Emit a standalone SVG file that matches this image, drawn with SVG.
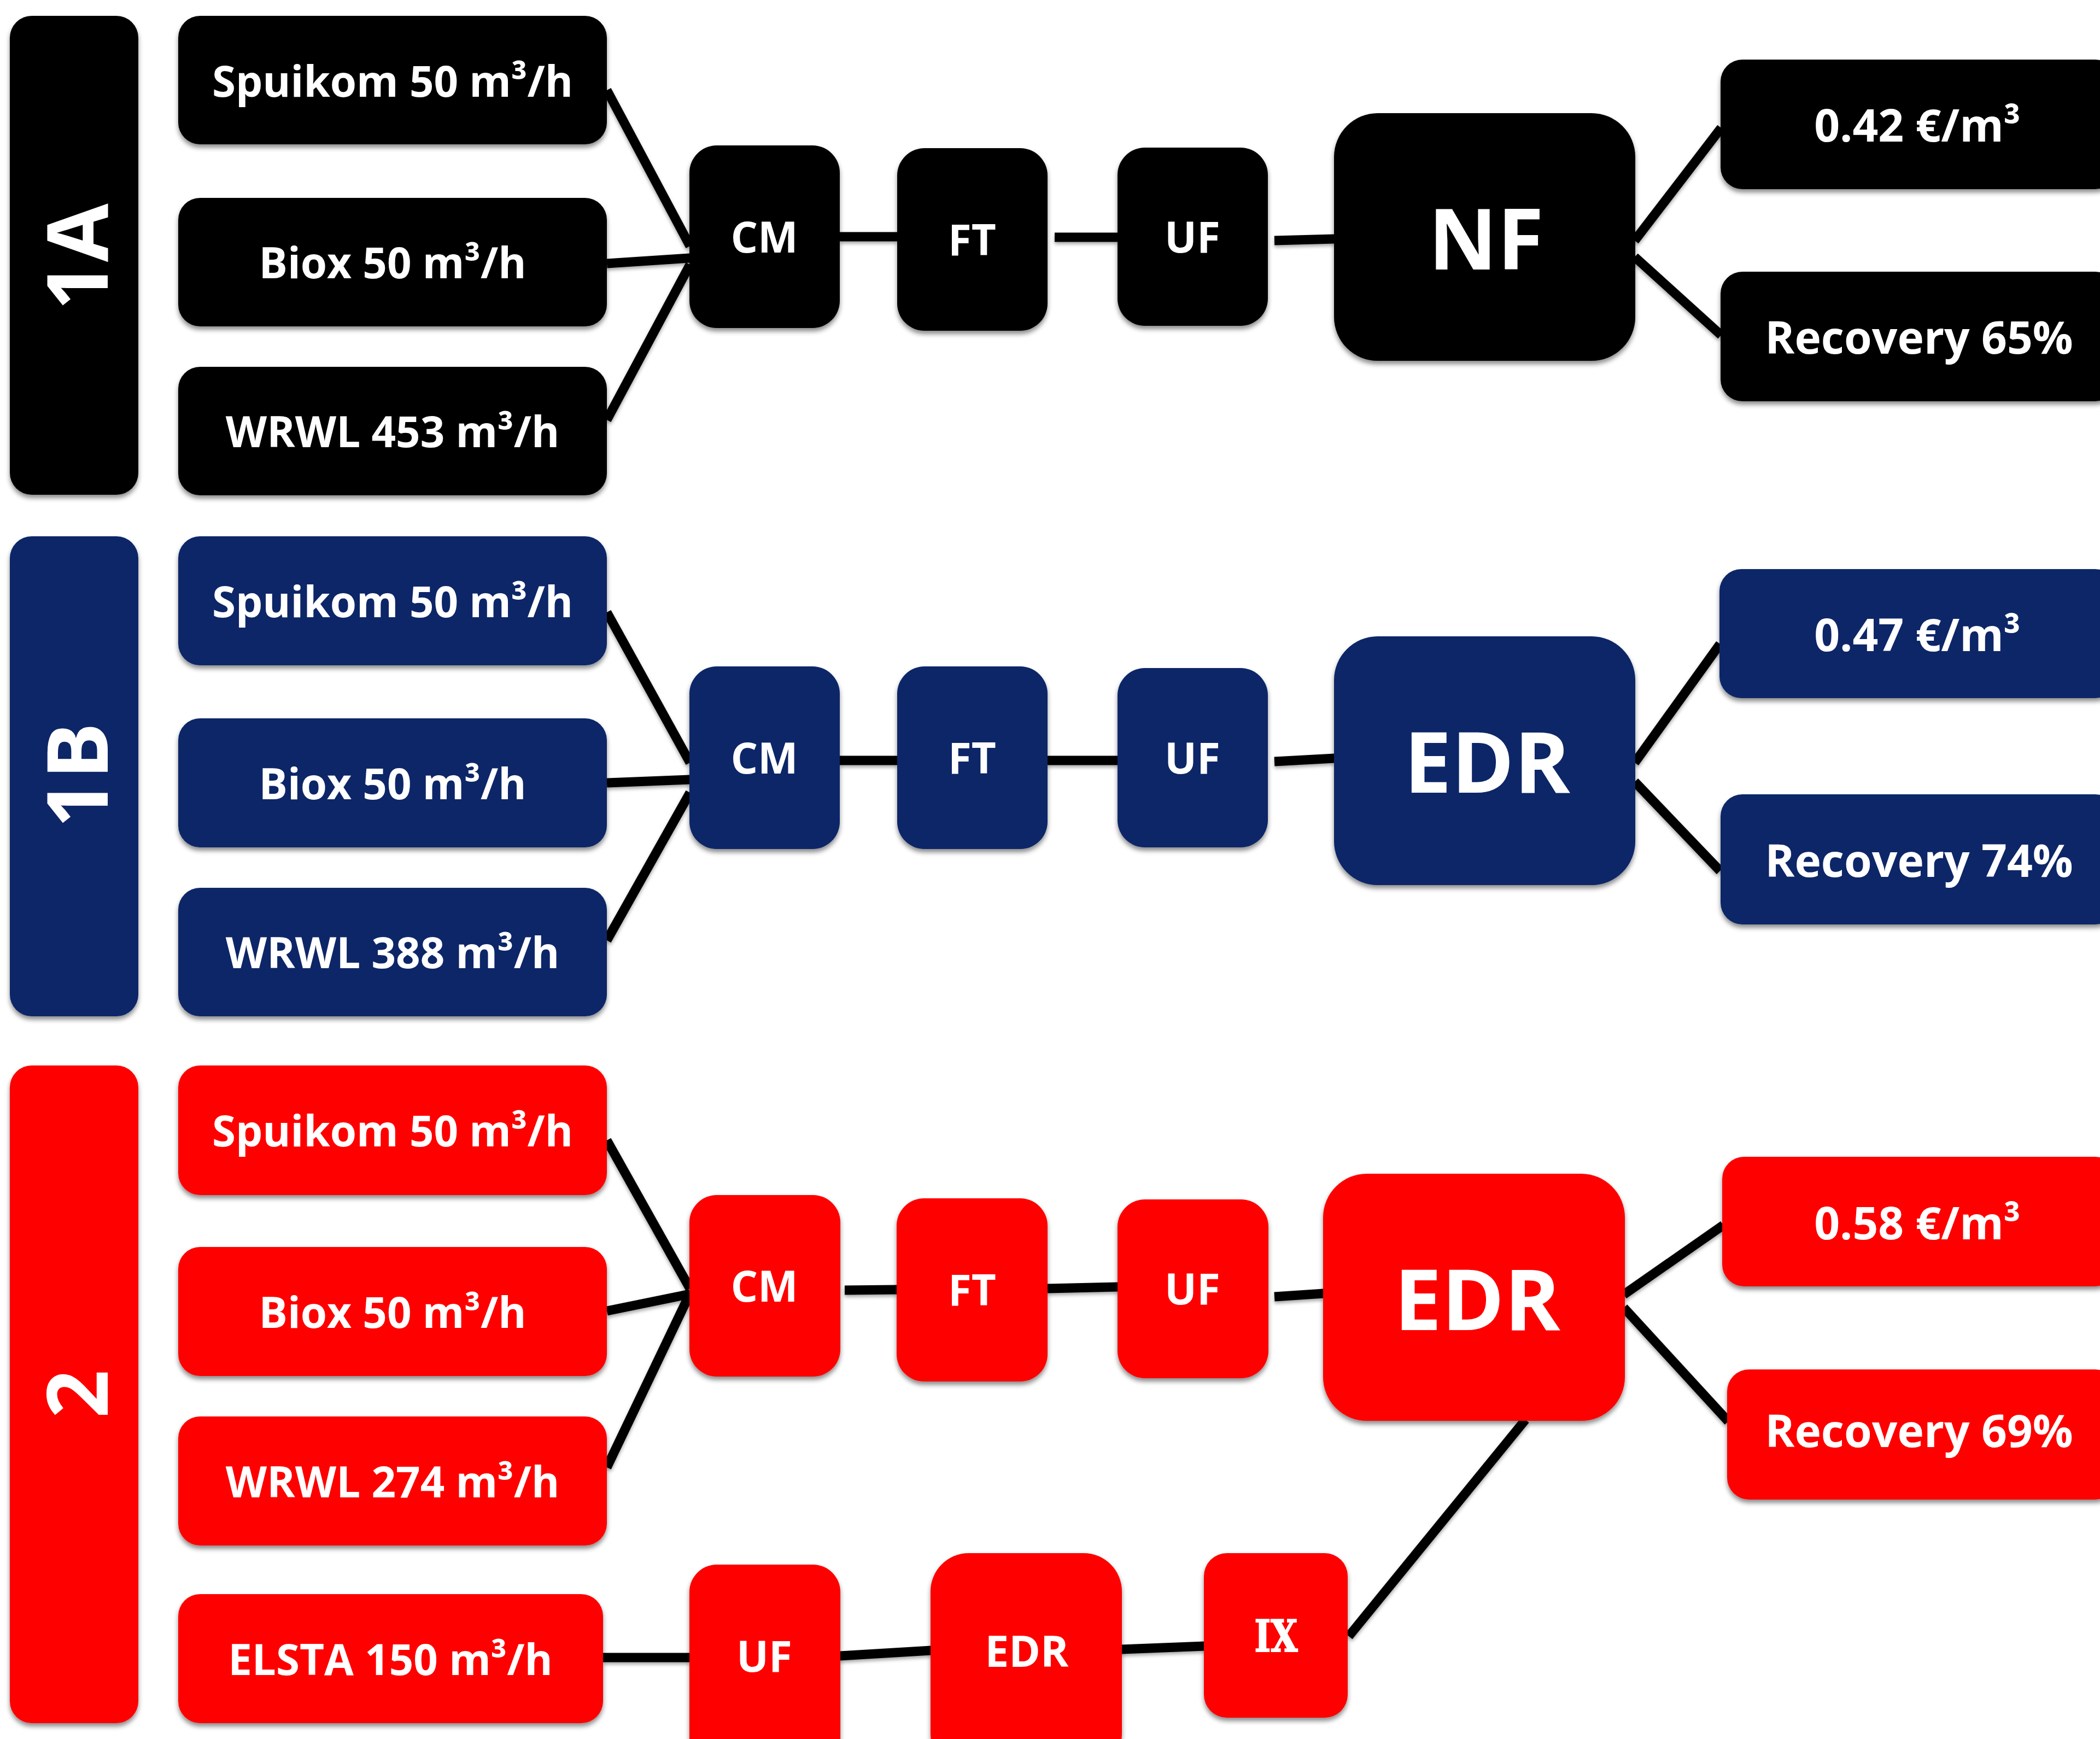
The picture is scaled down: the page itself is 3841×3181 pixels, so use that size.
<svg xmlns="http://www.w3.org/2000/svg" width="3841" height="3181" viewBox="0 0 3841 3181">
<defs>
<filter id="sh" x="-10%" y="-10%" width="120%" height="130%">
<feDropShadow dx="0" dy="6" stdDeviation="4" flood-color="#000" flood-opacity="0.45"/>
</filter>
<filter id="lsh" filterUnits="userSpaceOnUse" x="0" y="0" width="3841" height="3181">
<feDropShadow dx="0" dy="4" stdDeviation="3" flood-color="#000" flood-opacity="0.35"/>
</filter>
<style>
.k{fill:#050505}
.b{fill:#072567}
.r{fill:#FE0606}
rect{filter:url(#sh)}
text{font-family:"Open Sans","Noto Sans","DejaVu Sans",sans-serif;font-weight:700;fill:#fff;text-anchor:middle}
.t80{font-size:78px}
.t86{font-size:82px}
.t155{font-size:155px}
.lab{font-size:155px}
.ix{font-family:"DejaVu Serif","Liberation Serif",serif;font-size:80px;font-weight:800;font-stretch:condensed;stroke:#fff;stroke-width:2}
.c{filter:url(#lsh)}
.c line{stroke:#000;stroke-width:17;stroke-linecap:butt}
</style>
</defs>
<rect width="3841" height="3181" fill="#fff" style="filter:none"/>

<g class="c" id="connectors">
<!-- 1A -->
<line x1="1110" y1="165" x2="1262" y2="450"/>
<line x1="1110" y1="482" x2="1262" y2="472"/>
<line x1="1110" y1="768" x2="1262" y2="484"/>
<line x1="1536" y1="433" x2="1641" y2="433"/>
<line x1="1929" y1="434" x2="2044" y2="434"/>
<line x1="2331" y1="440" x2="2441" y2="437"/>
<line x1="2990" y1="440" x2="3148" y2="234"/>
<line x1="2990" y1="470" x2="3148" y2="613"/>
<!-- 1B -->
<line x1="1110" y1="1120" x2="1262" y2="1395"/>
<line x1="1110" y1="1432" x2="1262" y2="1426"/>
<line x1="1110" y1="1720" x2="1262" y2="1450"/>
<line x1="1536" y1="1391" x2="1641" y2="1391"/>
<line x1="1916" y1="1391" x2="2044" y2="1391"/>
<line x1="2331" y1="1393" x2="2441" y2="1387"/>
<line x1="2990" y1="1395" x2="3146" y2="1178"/>
<line x1="2990" y1="1430" x2="3146" y2="1593"/>
<!-- 2 -->
<line x1="1110" y1="2086" x2="1262" y2="2357"/>
<line x1="1110" y1="2398" x2="1262" y2="2367"/>
<line x1="1110" y1="2684" x2="1262" y2="2366"/>
<line x1="1103" y1="3032" x2="1262" y2="3032"/>
<line x1="1545" y1="2360" x2="1641" y2="2359"/>
<line x1="1916" y1="2357" x2="2045" y2="2354"/>
<line x1="2331" y1="2372" x2="2421" y2="2366"/>
<line x1="2970" y1="2368" x2="3152" y2="2241"/>
<line x1="2970" y1="2392" x2="3161" y2="2600"/>
<line x1="2790" y1="2597" x2="2467" y2="2993"/>
<line x1="1536" y1="3029" x2="1703" y2="3019"/>
<line x1="2051" y1="3017" x2="2204" y2="3011"/>
</g>

<!-- Section 1A -->
<g id="lab1A"><rect class="k" x="18" y="29" width="235" height="876" rx="40"/><text class="lab" transform="translate(197,470) rotate(-90)">1A</text></g>
<g id="a_spuikom"><rect class="k" x="326" y="29" width="784" height="235" rx="40"/><text class="t80" x="718" y="177">Spuikom 50 m³/h</text></g>
<g id="a_biox"><rect class="k" x="326" y="362" width="784" height="235" rx="40"/><text class="t80" x="718" y="509">Biox 50 m³/h</text></g>
<g id="a_wrwl"><rect class="k" x="326" y="671" width="784" height="235" rx="40"/><text class="t80" x="718" y="818">WRWL 453 m³/h</text></g>
<g id="a_cm"><rect class="k" x="1261" y="266" width="275" height="334" rx="50"/><text class="t80" x="1398" y="462">CM</text></g>
<g id="a_ft"><rect class="k" x="1641" y="271" width="275" height="334" rx="50"/><text class="t80" x="1778" y="467">FT</text></g>
<g id="a_uf"><rect class="k" x="2044" y="270" width="275" height="326" rx="50"/><text class="t80" x="2181" y="462">UF</text></g>
<g id="a_nf"><rect class="k" x="2440" y="207" width="551" height="453" rx="80"/><text class="t155" x="2718" y="493">NF</text></g>
<g id="a_cost"><rect class="k" x="3147" y="109" width="725" height="237" rx="40"/><text class="t86" x="3507" y="259">0.42 €/m³</text></g>
<g id="a_rec"><rect class="k" x="3147" y="497" width="725" height="237" rx="40"/><text class="t86" x="3510" y="647">Recovery 65%</text></g>

<!-- Section 1B -->
<g id="lab1B"><rect class="b" x="18" y="981" width="235" height="878" rx="40"/><text class="lab" transform="translate(197,1418) rotate(-90)">1B</text></g>
<g id="b_spuikom"><rect class="b" x="326" y="981" width="784" height="236" rx="40"/><text class="t80" x="718" y="1129">Spuikom 50 m³/h</text></g>
<g id="b_biox"><rect class="b" x="326" y="1314" width="784" height="236" rx="40"/><text class="t80" x="718" y="1462">Biox 50 m³/h</text></g>
<g id="b_wrwl"><rect class="b" x="326" y="1624" width="784" height="235" rx="40"/><text class="t80" x="718" y="1771">WRWL 388 m³/h</text></g>
<g id="b_cm"><rect class="b" x="1261" y="1219" width="275" height="334" rx="50"/><text class="t80" x="1398" y="1415">CM</text></g>
<g id="b_ft"><rect class="b" x="1641" y="1219" width="275" height="334" rx="50"/><text class="t80" x="1778" y="1415">FT</text></g>
<g id="b_uf"><rect class="b" x="2044" y="1222" width="275" height="328" rx="50"/><text class="t80" x="2181" y="1415">UF</text></g>
<g id="b_edr"><rect class="b" x="2440" y="1164" width="551" height="455" rx="80"/><text class="t155" x="2720" y="1450">EDR</text></g>
<g id="b_cost"><rect class="b" x="3145" y="1041" width="727" height="236" rx="40"/><text class="t86" x="3507" y="1191">0.47 €/m³</text></g>
<g id="b_rec"><rect class="b" x="3147" y="1453" width="725" height="238" rx="40"/><text class="t86" x="3510" y="1604">Recovery 74%</text></g>

<!-- Section 2 -->
<g id="lab2"><rect class="r" x="18" y="1949" width="235" height="1203" rx="40"/><text class="lab" transform="translate(197,2550) rotate(-90)">2</text></g>
<g id="c_spuikom"><rect class="r" x="326" y="1949" width="784" height="237" rx="40"/><text class="t80" x="718" y="2097">Spuikom 50 m³/h</text></g>
<g id="c_biox"><rect class="r" x="326" y="2281" width="784" height="236" rx="40"/><text class="t80" x="718" y="2429">Biox 50 m³/h</text></g>
<g id="c_wrwl"><rect class="r" x="326" y="2591" width="784" height="236" rx="40"/><text class="t80" x="718" y="2739">WRWL 274 m³/h</text></g>
<g id="c_elsta"><rect class="r" x="326" y="2916" width="777" height="236" rx="40"/><text class="t80" x="714" y="3064">ELSTA 150 m³/h</text></g>
<g id="c_cm"><rect class="r" x="1261" y="2186" width="276" height="332" rx="50"/><text class="t80" x="1398" y="2381">CM</text></g>
<g id="c_ft"><rect class="r" x="1640" y="2192" width="276" height="335" rx="50"/><text class="t80" x="1778" y="2388">FT</text></g>
<g id="c_uf"><rect class="r" x="2044" y="2194" width="276" height="327" rx="50"/><text class="t80" x="2181" y="2386">UF</text></g>
<g id="c_edr"><rect class="r" x="2420" y="2147" width="552" height="452" rx="80"/><text class="t155" x="2702" y="2433">EDR</text></g>
<g id="c_cost"><rect class="r" x="3150" y="2116" width="722" height="237" rx="40"/><text class="t86" x="3507" y="2267">0.58 €/m³</text></g>
<g id="c_rec"><rect class="r" x="3159" y="2505" width="713" height="238" rx="40"/><text class="t86" x="3510" y="2647">Recovery 69%</text></g>
<g id="c_uf2"><rect class="r" x="1261" y="2862" width="276" height="380" rx="50"/><text class="t80" x="1398" y="3058">UF</text></g>
<g id="c_edr2"><rect class="r" x="1702" y="2841" width="350" height="400" rx="70"/><text class="t80" x="1878" y="3049">EDR</text></g>
<g id="c_ix"><rect class="r" x="2202" y="2841" width="263" height="301" rx="42"/><text class="ix" transform="translate(2334,3021) scale(0.88,1)">IX</text></g>
</svg>
